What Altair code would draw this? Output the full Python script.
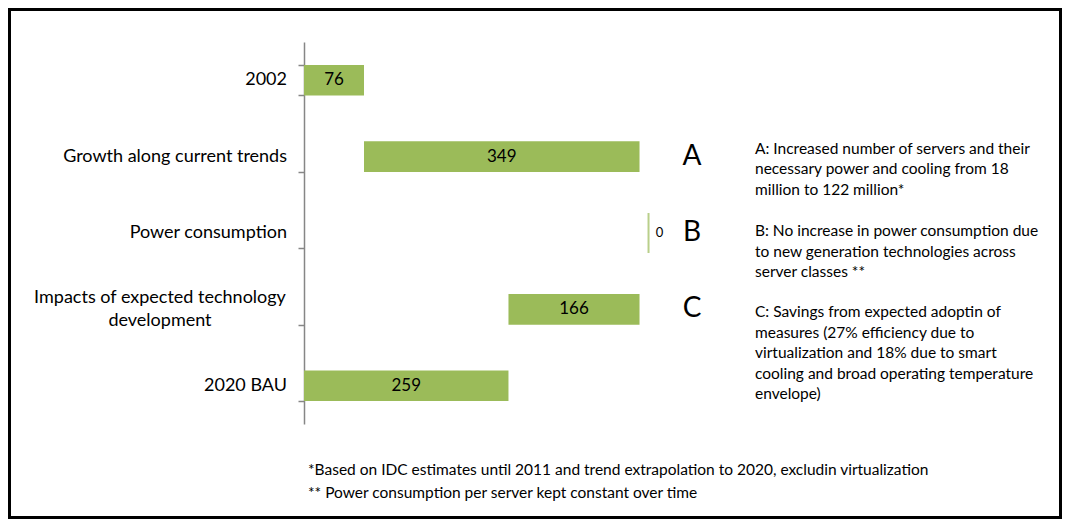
import altair as alt
import pandas as pd

categories = ["2002", "Growth along current trends", "Power consumption",
              "Impacts of expected technology development", "2020 BAU"]
values = [76, 349, 0, 166, 259]
starts = [0, 76, 425, 259, 0]
ends = [76, 425, 425, 425, 259]

letter_cats = ["Growth along current trends", "Power consumption",
               "Impacts of expected technology development"]
letters = ["A", "B", "C"]
notes = [
    "A: Increased number of servers and their\nnecessary power and cooling from 18\nmillion to 122 million*",
    "B: No increase in power consumption due\nto new generation technologies across\nserver classes **",
    "C: Savings from expected adoptin of\nmeasures (27% efficiency due to\nvirtualization and 18% due to smart\ncooling and broad operating temperature\nenvelope)",
]
note_dy = [-8, -2, 3]
footnotes = [
    "*Based on IDC estimates until 2011 and trend extrapolation to 2020, excludin virtualization",
    "** Power consumption per server kept constant over time",
]

FONT = "Lato"
GREEN = "#9BBB59"

df = pd.DataFrame({"category": categories, "value": values, "start": starts, "end": ends})
ann = pd.DataFrame({"category": letter_cats, "letter": letters, "note": notes})

xscale = alt.Scale(domain=[0, 950])
ycat = alt.Y("category:N", sort=categories, title=None)

bars = alt.Chart(df).mark_bar(color=GREEN).encode(
    x=alt.X("start:Q", scale=xscale, axis=None),
    x2="end:Q",
    y=alt.Y("category:N", sort=categories, title=None,
            scale=alt.Scale(paddingInner=0.6, paddingOuter=0.3),
            axis=alt.Axis(labels=False, tickBand="extent", domainColor="#868686",
                          tickColor="#868686", tickSize=6, domainWidth=1.5,
                          tickWidth=1.5, grid=False)),
)

zero_tick = alt.Chart(df).transform_filter("datum.value == 0").mark_tick(
    color=GREEN, size=40, thickness=2, xOffset=9
).encode(x=alt.X("end:Q", scale=xscale, axis=None), y=ycat)

bar_labels = alt.Chart(df).transform_filter("datum.value > 0").transform_calculate(
    mid="(datum.start + datum.end) / 2"
).mark_text(font=FONT, fontSize=17, color="black").encode(
    x=alt.X("mid:Q", scale=xscale, axis=None), y=ycat, text="value:Q"
)

zero_label = alt.Chart(df).transform_filter("datum.value == 0").mark_text(
    font=FONT, fontSize=13, color="black", xOffset=20
).encode(x=alt.X("end:Q", scale=xscale, axis=None), y=ycat, text="value:Q")

single_cats = [c for c in categories if c != "Impacts of expected technology development"]
cat_labels = alt.Chart(df).transform_filter(
    alt.FieldOneOfPredicate(field="category", oneOf=single_cats)
).mark_text(font=FONT, fontSize=18, color="black", align="right").encode(
    x=alt.value(-17), y=ycat, text="category:N"
)

two_line = alt.Chart(df).transform_filter(
    "datum.category == 'Impacts of expected technology development'"
).transform_calculate(
    lab="'Impacts of expected technology\\ndevelopment'"
).mark_text(font=FONT, fontSize=18, color="black", align="center",
            lineBreak="\n", lineHeight=23, dy=-11).encode(
    x=alt.value(-144), y=ycat, text="lab:N"
)

letter_layer = alt.Chart(ann).mark_text(font=FONT, fontSize=28, color="black").encode(
    x=alt.value(388), y=ycat, text="letter:N"
)

note_layers = []
for cat, dy in zip(letter_cats, note_dy):
    note_layers.append(
        alt.Chart(ann).transform_filter(alt.FieldEqualPredicate(field="category", equal=cat))
        .mark_text(font=FONT, fontSize=15.5, color="black", align="left",
                   baseline="middle", lineBreak="\n", lineHeight=20.5, dy=dy)
        .encode(x=alt.value(451), y=ycat, text="note:N")
    )

foot_df = pd.DataFrame({"t": footnotes, "i": [0, 1]})
foot1 = alt.Chart(foot_df).transform_filter("datum.i == 0").mark_text(
    font=FONT, fontSize=15.5, color="black", align="left"
).encode(x=alt.value(4), y=alt.value(428), text="t:N")
foot2 = alt.Chart(foot_df).transform_filter("datum.i == 1").mark_text(
    font=FONT, fontSize=15.5, color="black", align="left"
).encode(x=alt.value(4), y=alt.value(451), text="t:N")

border = alt.Chart(pd.DataFrame({"a": [0]})).mark_rect(
    fill="transparent", stroke="black", strokeWidth=3
).encode(x=alt.value(-294.5), x2=alt.value(756.5), y=alt.value(-32.5), y2=alt.value(475.5))

chart = alt.layer(
    bars, zero_tick, bar_labels, zero_label, cat_labels, two_line, letter_layer,
    *note_layers, foot1, foot2, border
).properties(
    width=750, height=382,
    autosize=alt.AutoSizeParams(type="none"),
    padding={"left": 296, "top": 34, "right": 8, "bottom": 95},
).configure(
    font=FONT, background="white",
    view=alt.ViewConfig(stroke="transparent"),
)

chart.save("out.html", embed_options={"renderer": "svg", "actions": False})
